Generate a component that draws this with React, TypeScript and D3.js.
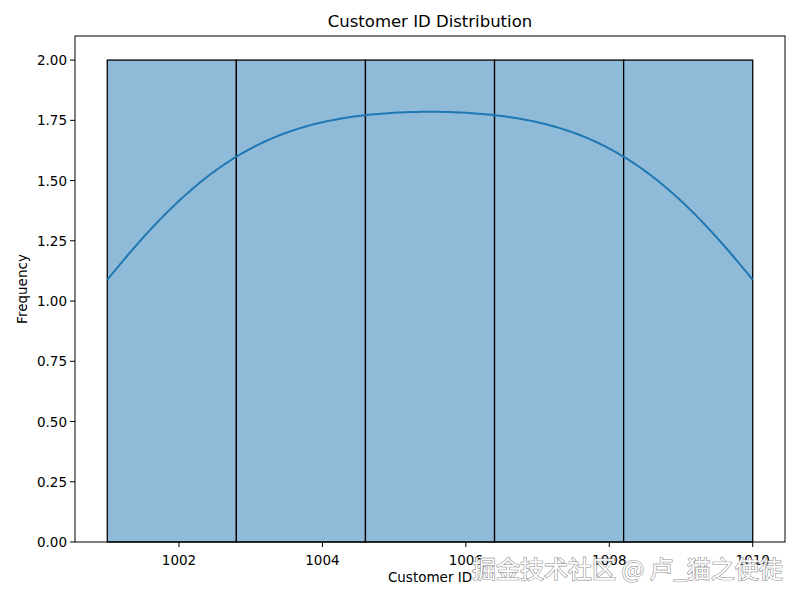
import React from "react";
import * as d3 from "d3";

const customerIds = [1001, 1002, 1003, 1004, 1005, 1006, 1007, 1008, 1009, 1010];
const binCount = 5;
const xTicks = [1002, 1004, 1006, 1008, 1010];
const yTicks = [0, 0.25, 0.5, 0.75, 1.0, 1.25, 1.5, 1.75, 2.0];
const titleText = "Customer ID Distribution";
const xLabel = "Customer ID";
const yLabel = "Frequency";
const watermark = "掘金技术社区 @ 卢_猫之使徒";

const W = 800, H = 600;
const left = 75, right = 785, top = 36, bottom = 542;
const FONT = "DejaVu Sans, sans-serif";

export default function App() {
  const lo = d3.min(customerIds)!;
  const hi = d3.max(customerIds)!;
  const binW = (hi - lo) / binCount;
  const edges = d3.range(binCount + 1).map((i) => lo + i * binW);
  const bins = d3.range(binCount).map((i) => {
    const a = edges[i], b = edges[i + 1];
    const c = customerIds.filter((v) => (i === binCount - 1 ? v >= a && v <= b : v >= a && v < b)).length;
    return { x0: a, x1: b, count: c };
  });
  const maxCount = d3.max(bins, (b) => b.count)!;
  const pad = (hi - lo) * 0.05;
  const x = d3.scaleLinear().domain([lo - pad, hi + pad]).range([left, right]);
  const y = d3.scaleLinear().domain([0, maxCount * 1.05]).range([bottom, top]);

  // Gaussian KDE (Scott's rule), scaled to counts
  const n = customerIds.length;
  const sd = d3.deviation(customerIds)!;
  const h = sd * Math.pow(n, -1 / 5);
  const kde = (t: number) =>
    d3.sum(customerIds, (v) => Math.exp(-((t - v) ** 2) / (2 * h * h))) / (n * h * Math.sqrt(2 * Math.PI));
  const grid = d3.range(201).map((i) => lo + ((hi - lo) * i) / 200);
  const kdePts = grid.map((t) => [t, kde(t) * n * binW] as [number, number]);
  const line = d3.line<[number, number]>().x((d) => x(d[0])).y((d) => y(d[1]))(kdePts)!;

  return (
    <div style={{ position: "fixed", left: 0, top: 0 }}>
      <svg width={W} height={H} style={{ display: "block", background: "#fff" }} fontFamily={FONT}>
        <rect x={0} y={0} width={W} height={H} fill="#fff" />
        {bins.map((b, i) => (
          <rect
            key={i}
            x={x(b.x0)}
            y={y(b.count)}
            width={x(b.x1) - x(b.x0)}
            height={y(0) - y(b.count)}
            fill="#8fbbd9"
            stroke="#000"
            strokeWidth={1.3}
          />
        ))}
        <path d={line} fill="none" stroke="#1f77b4" strokeWidth={2} />
        <rect x={left} y={top} width={right - left} height={bottom - top} fill="none" stroke="#000" strokeWidth={1} />
        {xTicks.map((t) => (
          <g key={t} transform={`translate(${x(t)},${bottom})`}>
            <line y2={5} stroke="#000" strokeWidth={1} />
            <text y={19} textAnchor="middle" fontSize={13.5} fill="#000" dominantBaseline="middle">{t}</text>
          </g>
        ))}
        {yTicks.map((t) => (
          <g key={t} transform={`translate(${left},${y(t)})`}>
            <line x2={-5} stroke="#000" strokeWidth={1} />
            <text x={-8} textAnchor="end" fontSize={13.5} fill="#000" dominantBaseline="central">{t.toFixed(2)}</text>
          </g>
        ))}
        <text x={(left + right) / 2} y={top - 9} textAnchor="middle" fontSize={16.5} fill="#000">{titleText}</text>
        <text x={(left + right) / 2} y={582} textAnchor="middle" fontSize={13.5} fill="#000">{xLabel}</text>
        <text transform={`translate(27,${(top + bottom) / 2}) rotate(-90)`} textAnchor="middle" fontSize={13.5} fill="#000">{yLabel}</text>
        <text x={472} y={578} fontSize={24} fontFamily="Noto Sans CJK SC, sans-serif" fill="#fff" stroke="#888" strokeWidth={1.2} paintOrder="stroke" opacity={0.95}>{watermark}</text>
      </svg>
    </div>
  );
}
